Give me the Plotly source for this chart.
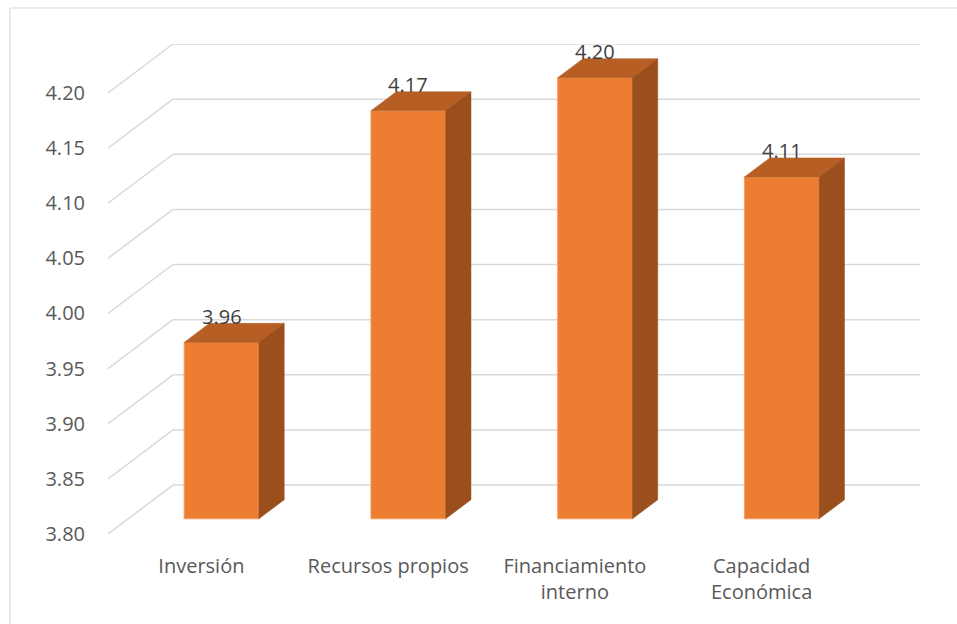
import plotly.graph_objects as go

# Category labels and mean scores
categories = ["Inversión", "Recursos propios", "Financiamiento<br>interno", "Capacidad<br>Económica"]
values = [3.96, 4.17, 4.20, 4.11]
tick_values = [3.80, 3.85, 3.90, 3.95, 4.00, 4.05, 4.10, 4.15, 4.20]

# Oblique projection of the depth axis (full depth, in axis units)
BASE = 3.80
TOP = 4.20
DEPTH_X = 0.348   # category units
DEPTH_Y = 0.0444  # value units
D_FRONT, D_BACK = 0.31, 0.70   # depth span occupied by the bars
BAR_W = 0.40

FRONT = "#ED7D31"
TOP_FACE = "#B65E23"
SIDE_FACE = "#9A4F1D"
GRID = "#D9D9D9"

n = len(categories)
centers = [i + 0.5 for i in range(n)]

fig = go.Figure()

# Front faces of the bars
fig.add_trace(go.Bar(
    x=[c + D_FRONT * DEPTH_X for c in centers],
    y=[v - BASE for v in values],
    base=[BASE + D_FRONT * DEPTH_Y] * n,
    width=BAR_W,
    marker=dict(color=FRONT, line=dict(color="#F3A066", width=1)),
    hoverinfo="skip",
    showlegend=False,
))

# Top and side faces
for c, v in zip(centers, values):
    xl, xr = c - BAR_W / 2, c + BAR_W / 2
    fx, fy = D_FRONT * DEPTH_X, D_FRONT * DEPTH_Y
    bx, by = D_BACK * DEPTH_X, D_BACK * DEPTH_Y
    fig.add_trace(go.Scatter(
        x=[xl + fx, xr + fx, xr + bx, xl + bx, xl + fx],
        y=[v + fy, v + fy, v + by, v + by, v + fy],
        mode="lines", fill="toself", fillcolor=TOP_FACE,
        line=dict(color=TOP_FACE, width=0.5),
        hoverinfo="skip", showlegend=False,
    ))
    fig.add_trace(go.Scatter(
        x=[xr + fx, xr + bx, xr + bx, xr + fx, xr + fx],
        y=[BASE + fy, BASE + by, v + by, v + fy, BASE + fy],
        mode="lines", fill="toself", fillcolor=SIDE_FACE,
        line=dict(color=SIDE_FACE, width=0.5),
        hoverinfo="skip", showlegend=False,
    ))

# Gridlines on the side wall and the back wall
shapes = []
for t in tick_values:
    shapes.append(dict(type="line", xref="x", yref="y", layer="below",
                       x0=0, y0=t, x1=DEPTH_X, y1=t + DEPTH_Y,
                       line=dict(color=GRID, width=1.5)))
    shapes.append(dict(type="line", xref="x", yref="y", layer="below",
                       x0=DEPTH_X, y0=t + DEPTH_Y, x1=n + DEPTH_X, y1=t + DEPTH_Y,
                       line=dict(color=GRID, width=1.5)))

# Chart frame
shapes.append(dict(type="rect", xref="paper", yref="paper", layer="below",
                   x0=-0.1207, y0=-0.25, x1=1.2, y1=1.0735,
                   line=dict(color=GRID, width=1)))

# Value labels above each bar
annotations = []
for c, v in zip(centers, values):
    annotations.append(dict(
        x=c + D_FRONT * DEPTH_X, y=v + D_BACK * DEPTH_Y,
        xref="x", yref="y", text=f"{v:.2f}", showarrow=False,
        yanchor="middle", yshift=7,
        font=dict(family="Open Sans", size=20, color="#404040"),
    ))

fig.update_layout(
    width=957, height=624,
    margin=dict(l=108, r=37, t=44, b=90),
    paper_bgcolor="white", plot_bgcolor="white",
    shapes=shapes, annotations=annotations,
    font=dict(family="Open Sans", size=20, color="#595959"),
    xaxis=dict(
        range=[0, n + DEPTH_X], showgrid=False, zeroline=False, showline=False,
        tickvals=centers, ticktext=categories, ticks="",
        ticklabelstandoff=18,
        tickfont=dict(family="Open Sans", size=20, color="#595959"),
    ),
    yaxis=dict(
        range=[BASE, TOP + DEPTH_Y], showgrid=False, zeroline=False, showline=False,
        tickvals=tick_values, ticktext=[f"{t:.2f}" for t in tick_values], ticks="",
        ticklabelstandoff=22,
        tickfont=dict(family="Open Sans", size=20, color="#595959"),
    ),
    showlegend=False,
)

fig.write_html("out.html")
